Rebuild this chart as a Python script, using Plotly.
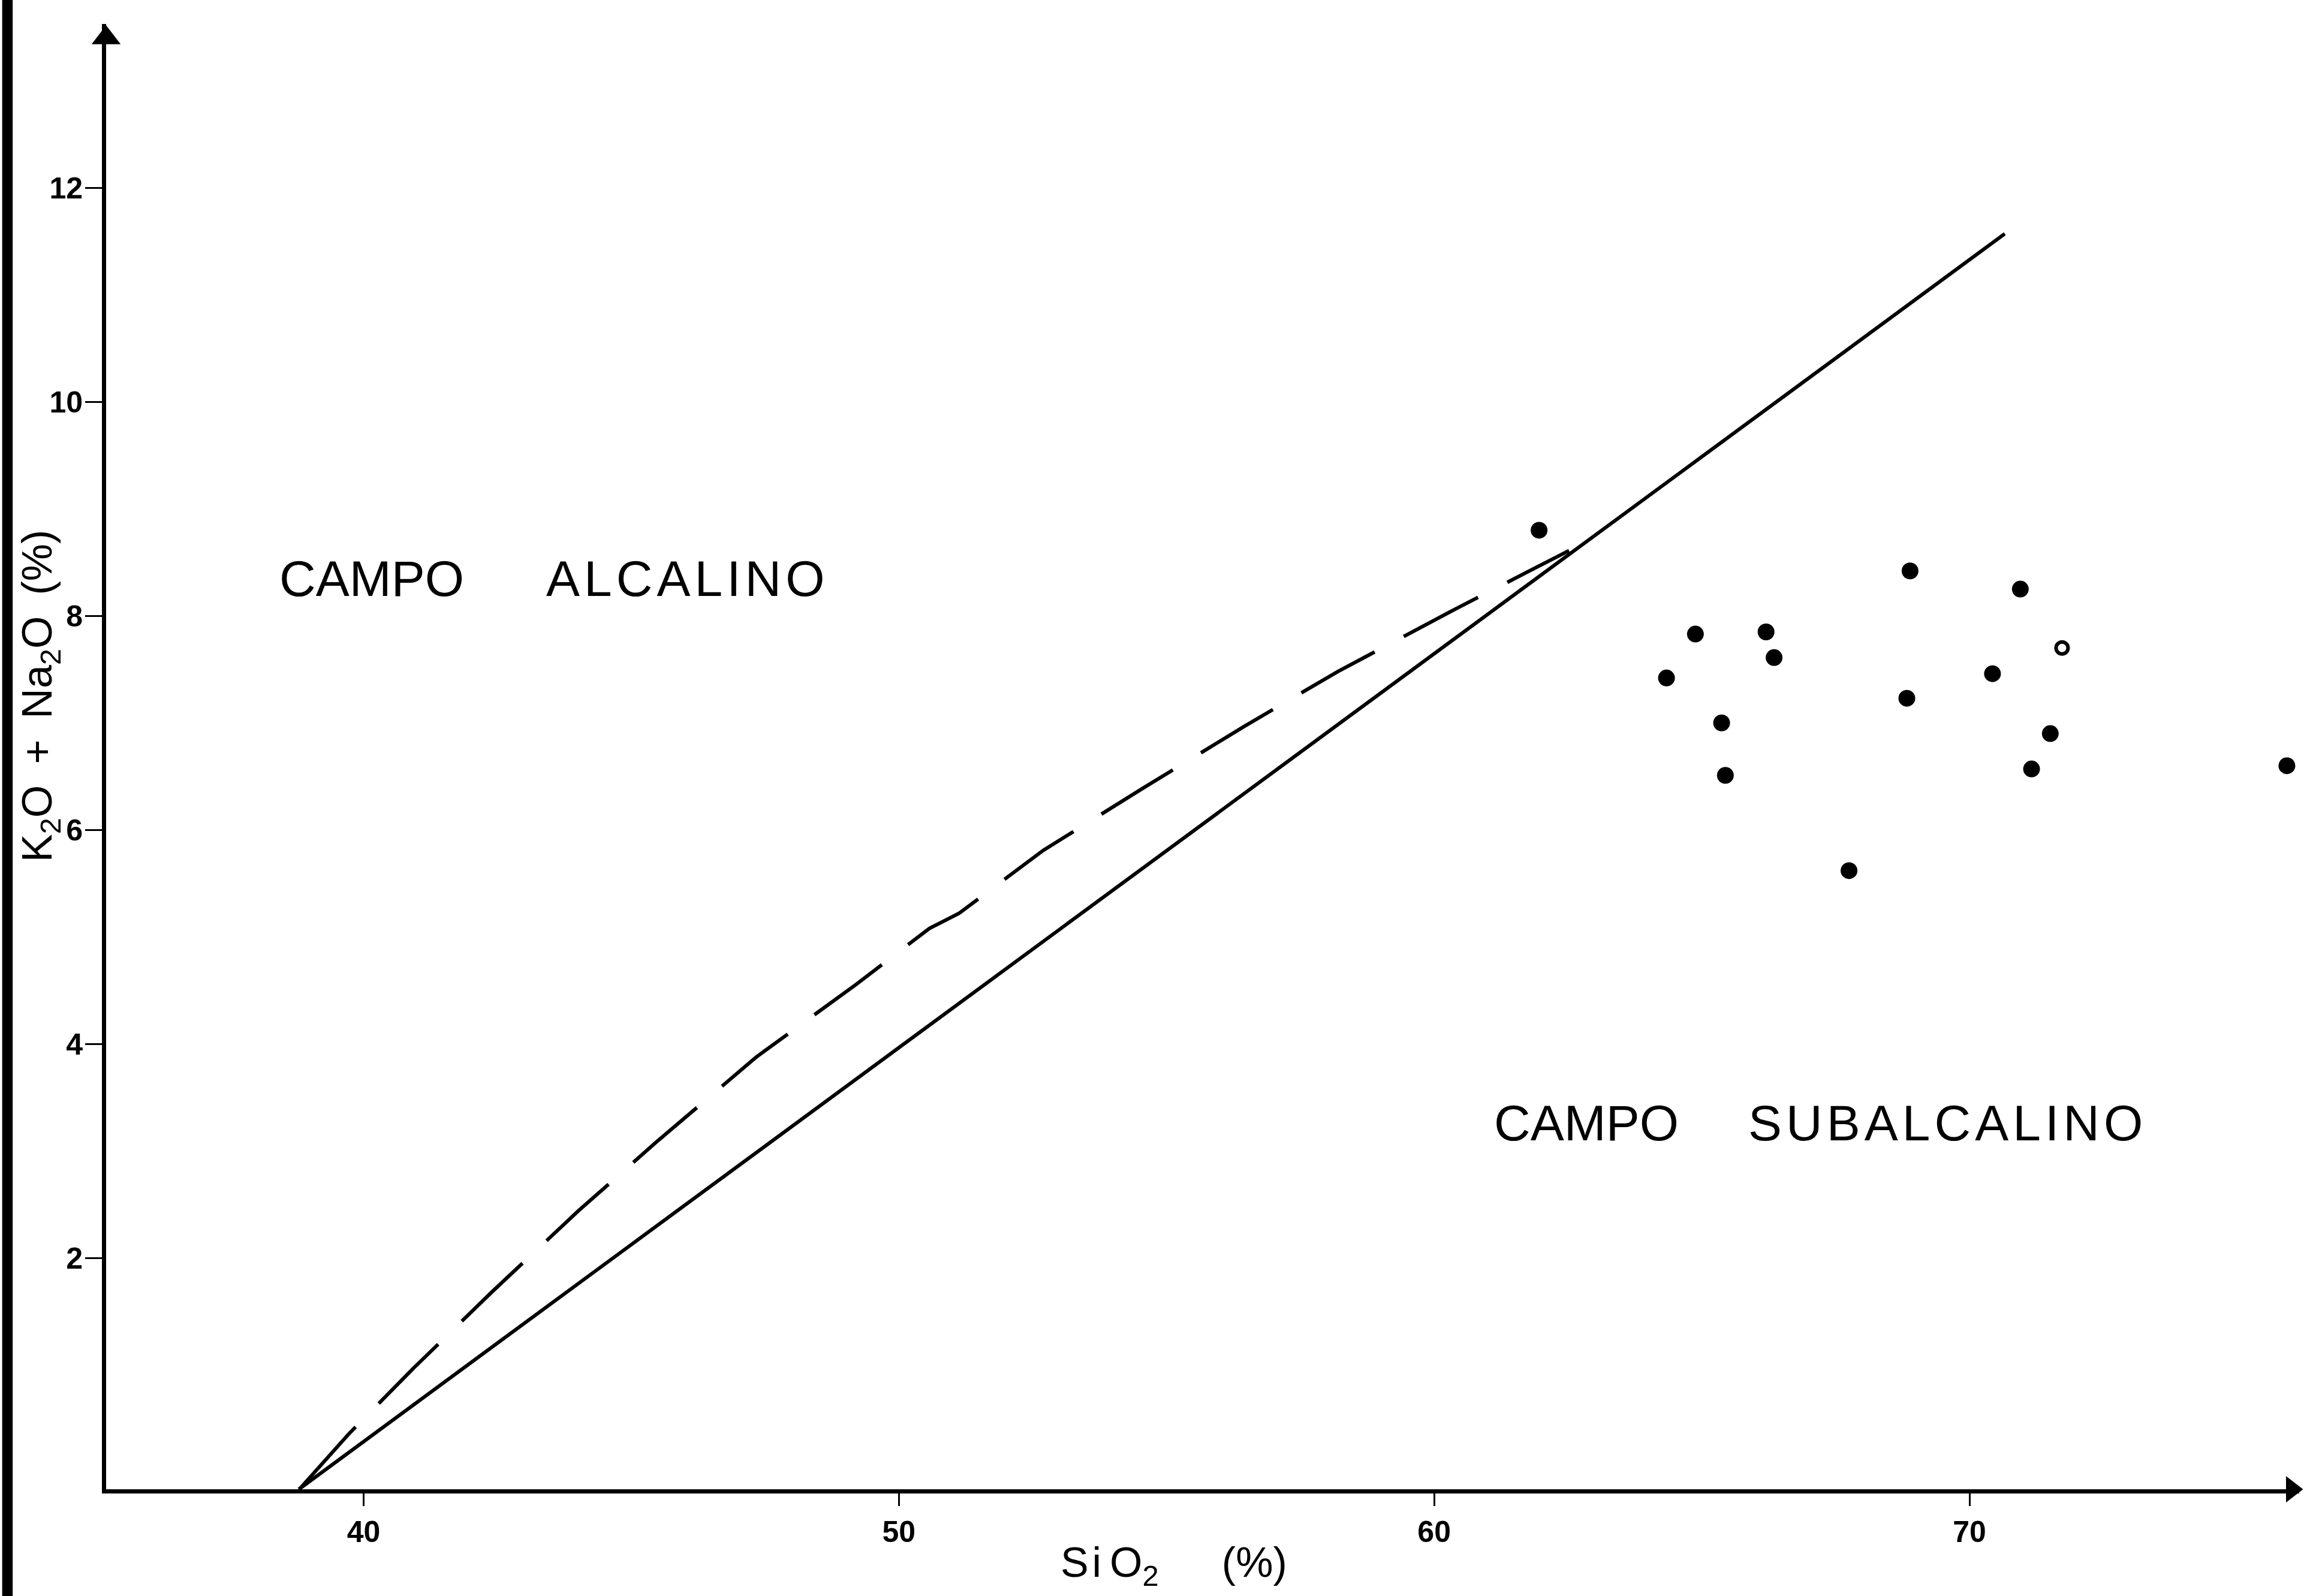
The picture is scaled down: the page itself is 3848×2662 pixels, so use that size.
import plotly.graph_objects as go

# ---- data ----
sio2_filled = [61.96, 64.34, 64.88, 65.37, 65.44, 66.20, 66.35, 67.75,
               68.89, 68.83, 70.43, 70.95, 71.51, 71.16, 75.93]
alk_filled = [8.80, 7.42, 7.83, 7.00, 6.51, 7.85, 7.61, 5.62,
              8.42, 7.23, 7.46, 8.25, 6.90, 6.57, 6.60]
sio2_open = [71.73]
alk_open = [7.70]

solid_x = [38.79, 70.66]
solid_y = [-0.16, 11.57]

dashed_x = [38.80, 39.71, 40.93, 42.39, 44.01, 45.46, 47.34, 49.21,
            50.57, 51.12, 52.70, 54.56, 56.46, 58.20, 60.38, 62.52]
dashed_y = [-0.16, 0.35, 0.97, 1.68, 2.44, 3.08, 3.88, 4.56,
            5.08, 5.22, 5.81, 6.39, 6.97, 7.48, 8.06, 8.61]

x_ticks = [40, 50, 60, 70]
y_ticks = [2, 4, 6, 8, 10, 12]

X_RANGE = [35.19, 76.16]
Y_RANGE = [-0.16, 13.53]

FONT = "Liberation Sans, Arial, sans-serif"
HS = "\u200a"  # hair space used as letter spacing


def spaced(word):
    return HS.join(word)


fig = go.Figure()

fig.add_trace(go.Scatter(x=dashed_x, y=dashed_y, mode="lines",
                         line=dict(color="black", width=6, dash="140px,55px"),
                         hoverinfo="skip", showlegend=False))
fig.add_trace(go.Scatter(x=solid_x, y=solid_y, mode="lines",
                         line=dict(color="black", width=6),
                         hoverinfo="skip", showlegend=False))
fig.add_trace(go.Scatter(x=sio2_filled, y=alk_filled, mode="markers",
                         marker=dict(symbol="circle", size=28, color="black",
                                     line=dict(width=0)),
                         showlegend=False))
fig.add_trace(go.Scatter(x=sio2_open, y=alk_open, mode="markers",
                         marker=dict(symbol="circle-open", size=20, color="black",
                                     line=dict(width=6)),
                         showlegend=False))

# axis arrowheads
fig.add_trace(go.Scatter(x=[X_RANGE[0]], y=[13.40], mode="markers",
                         marker=dict(symbol="triangle-up", size=42, color="black"),
                         cliponaxis=False, hoverinfo="skip", showlegend=False))
fig.add_trace(go.Scatter(x=[76.02], y=[Y_RANGE[0]], mode="markers",
                         marker=dict(symbol="triangle-right", size=38, color="black"),
                         cliponaxis=False, hoverinfo="skip", showlegend=False))

# region labels
lab_font = dict(family=FONT, size=84, color="black")
for txt, x, y in [("CAMPO", 38.40, 8.35), (spaced("ALCALINO"), 43.39, 8.35),
                  ("CAMPO", 61.10, 3.26), (spaced("SUBALCALINO"), 65.85, 3.26)]:
    fig.add_annotation(x=x, y=y, xref="x", yref="y", text=txt,
                       showarrow=False, xanchor="left", yanchor="middle",
                       font=lab_font)

# axis titles
fig.add_annotation(x=-0.0301, y=0.5413, xref="paper", yref="paper",
                   text="K<sub>2</sub>O\u2002+\u2002Na<sub>2</sub>O\u2002(%)",
                   textangle=-90, showarrow=False,
                   xanchor="center", yanchor="middle",
                   font=dict(family=FONT, size=70, color="black"))
fig.add_annotation(x=0.4869, y=-0.0520, xref="paper", yref="paper",
                   text="S" + HS + "i\u2009O<sub>2</sub>\u2003\u2002(%)",
                   showarrow=False, xanchor="center", yanchor="middle",
                   font=dict(family=FONT, size=70, color="black"))

# thick black scan border at left
fig.add_shape(type="rect", xref="paper", yref="paper",
              x0=-0.0474, x1=-0.0426, y0=-0.08, y1=1.02,
              fillcolor="black", line=dict(width=0), layer="above")

tick_font = dict(family=FONT, size=50, color="black", weight="bold")

fig.update_xaxes(range=X_RANGE, tickmode="array", tickvals=x_ticks,
                 ticktext=[str(v) for v in x_ticks],
                 showgrid=False, zeroline=False, showline=True,
                 linecolor="black", linewidth=7,
                 ticks="outside", ticklen=21, tickwidth=3, tickcolor="black",
                 ticklabelstandoff=0, tickfont=tick_font)
fig.update_yaxes(range=Y_RANGE, tickmode="array", tickvals=y_ticks,
                 ticktext=[str(v) for v in y_ticks],
                 showgrid=False, zeroline=False, showline=True,
                 linecolor="black", linewidth=7,
                 ticks="outside", ticklen=28, tickwidth=3, tickcolor="black",
                 ticklabelstandoff=-6, tickfont=tick_font)

fig.update_layout(width=3848, height=2662, autosize=False,
                  margin=dict(l=177, r=13, t=40, b=178),
                  paper_bgcolor="white", plot_bgcolor="white",
                  showlegend=False)

fig.write_html("out.html")
